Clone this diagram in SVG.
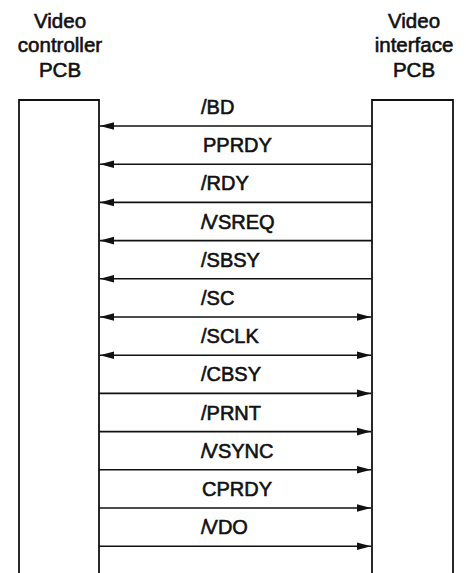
<svg xmlns="http://www.w3.org/2000/svg" width="466" height="573" viewBox="0 0 466 573">
<style>
.hdr{font-family:"Liberation Sans",Arial,sans-serif;font-size:20.5px;fill:#111;stroke:#111;stroke-width:0.6;text-anchor:middle}
.lbl{font-family:"Liberation Sans",Arial,sans-serif;font-size:20px;fill:#111;stroke:#111;stroke-width:0.6}
.box{fill:none;stroke:#111;stroke-width:1.8}
.sig{stroke:#111;stroke-width:1.6;fill:none}
</style>
<defs>
<marker id="ah" markerUnits="userSpaceOnUse" markerWidth="15" markerHeight="10" refX="14" refY="5" orient="auto-start-reverse">
<path d="M0,1.2 L14,5 L0,8.8 z" fill="#111"/>
</marker>
</defs>
<g id="controller">
<text class="hdr" x="60" y="28">Video</text>
<text class="hdr" x="60" y="52">controller</text>
<text class="hdr" x="60" y="77">PCB</text>
<path class="box" d="M19,573 V100 H99 V573"/>
</g>
<g id="interface">
<text class="hdr" x="414" y="28">Video</text>
<text class="hdr" x="414" y="52">interface</text>
<text class="hdr" x="414" y="77">PCB</text>
<path class="box" d="M372,573 V100 H453 V573"/>
</g>
<g id="connectors">
<line class="sig" x1="372" y1="126" x2="100" y2="126" marker-end="url(#ah)"/>
<line class="sig" x1="372" y1="164.2" x2="100" y2="164.2" marker-end="url(#ah)"/>
<line class="sig" x1="372" y1="202.4" x2="100" y2="202.4" marker-end="url(#ah)"/>
<line class="sig" x1="372" y1="240.6" x2="100" y2="240.6" marker-end="url(#ah)"/>
<line class="sig" x1="372" y1="278.8" x2="100" y2="278.8" marker-end="url(#ah)"/>
<line class="sig" x1="100" y1="317" x2="371" y2="317" marker-start="url(#ah)" marker-end="url(#ah)"/>
<line class="sig" x1="100" y1="355.2" x2="371" y2="355.2" marker-start="url(#ah)" marker-end="url(#ah)"/>
<line class="sig" x1="99" y1="393.4" x2="371" y2="393.4" marker-end="url(#ah)"/>
<line class="sig" x1="99" y1="431.6" x2="371" y2="431.6" marker-end="url(#ah)"/>
<line class="sig" x1="99" y1="469.8" x2="371" y2="469.8" marker-end="url(#ah)"/>
<line class="sig" x1="99" y1="508" x2="371" y2="508" marker-end="url(#ah)"/>
<line class="sig" x1="99" y1="546.2" x2="371" y2="546.2" marker-end="url(#ah)"/>
</g>
<g id="labels">
<text class="lbl" x="201" y="114">/BD</text>
<text class="lbl" x="203" y="152.2">PPRDY</text>
<text class="lbl" x="201" y="190.4">/RDY</text>
<text class="lbl" x="201" y="228.6" dx="0 -2">/VSREQ</text>
<text class="lbl" x="201" y="266.8">/SBSY</text>
<text class="lbl" x="201" y="305">/SC</text>
<text class="lbl" x="201" y="343.2">/SCLK</text>
<text class="lbl" x="201" y="381.4">/CBSY</text>
<text class="lbl" x="201" y="419.6">/PRNT</text>
<text class="lbl" x="201" y="457.8" dx="0 -2">/VSYNC</text>
<text class="lbl" x="202" y="496">CPRDY</text>
<text class="lbl" x="201" y="534.2" dx="0 -2">/VDO</text>
</g>
</svg>
